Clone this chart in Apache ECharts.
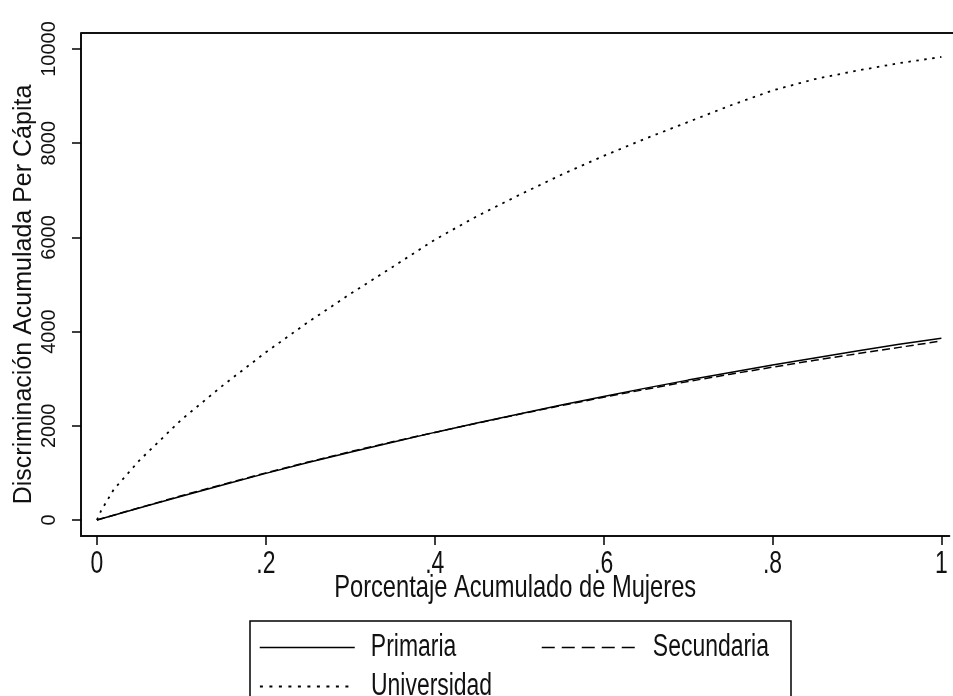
<!DOCTYPE html>
<html>
<head>
<meta charset="utf-8">
<script src="https://cdn.jsdelivr.net/npm/echarts@6/dist/echarts.min.js"></script>
<style>
  html, body { margin: 0; padding: 0; background: #fff; }
  #chart { width: 953px; height: 696px; }
</style>
</head>
<body>
<div id="chart"></div>
<script>
// Cumulative share of women (x) for the primary / secondary curves
const shareX = [0, 0.05, 0.1, 0.15, 0.2, 0.25, 0.3, 0.35, 0.4, 0.45, 0.5,
                0.55, 0.6, 0.65, 0.7, 0.75, 0.8, 0.85, 0.9, 0.95, 1];
const primaria = [0, 255, 505, 750, 990, 1220, 1440, 1650, 1860, 2060, 2250,
                  2440, 2620, 2800, 2970, 3130, 3290, 3440, 3590, 3730, 3860];
const secundaria = [0, 260, 515, 760, 1000, 1230, 1450, 1660, 1860, 2055, 2245,
                    2430, 2605, 2775, 2940, 3095, 3245, 3390, 3530, 3665, 3800];
// University curve rises steeply near the origin, so it has extra points there
const uniX = [0, 0.005, 0.02, 0.05, 0.1, 0.15, 0.2, 0.25, 0.3, 0.35, 0.4, 0.45, 0.5,
              0.55, 0.6, 0.65, 0.7, 0.75, 0.8, 0.85, 0.9, 0.95, 1];
const universidad = [0, 200, 650, 1260, 2130, 2870, 3560, 4200, 4800, 5370, 5950, 6450, 6900,
                     7330, 7730, 8100, 8450, 8800, 9120, 9360, 9540, 9700, 9830];

const xTicks = [0, 0.2, 0.4, 0.6, 0.8, 1];
const yTicks = [0, 2000, 4000, 6000, 8000, 10000];

const seriesNames = ['Primaria', 'Secundaria', 'Universidad'];
const xTitle = 'Porcentaje Acumulado de Mujeres';
const yTitle = 'Discriminación Acumulada Per Cápita';

const pair = (xs, ys) => xs.map((x, i) => [x, ys[i]]);

const font = "'Liberation Sans', Arial, sans-serif";
// Horizontal text is drawn narrow (tall, condensed glyphs)
const CONDENSE = 0.74;

// The plot box leaves a margin around the data: 16px on the left and bottom,
// 16px above the top tick, and runs out to the right edge of the page.
const W = 953, H = 696;
const box = { left: 81, top: 33, bottom: 536, right: W };
const x0px = 97, x1px = 945, y0px = 520, y1px = 49;
const xPerPx = (xTicks[xTicks.length - 1] - xTicks[0]) / (x1px - x0px);
const yPerPx = (yTicks[yTicks.length - 1] - yTicks[0]) / (y0px - y1px);
const xMin = xTicks[0] - (x0px - box.left) * xPerPx;
const xMax = xTicks[xTicks.length - 1] + (box.right - x1px) * xPerPx;
const yMin = yTicks[0] - (box.bottom - y0px) * yPerPx;
const yMax = yTicks[yTicks.length - 1] + (y1px - box.top) * yPerPx;

const solid = { color: '#000', width: 1.5, type: 'solid' };
const dashed = { color: '#000', width: 1.5, type: [8, 4] };
const dotted = { color: '#000', width: 1.8, type: [2.5, 5.5] };

const chart = echarts.init(document.getElementById('chart'), null, { renderer: 'canvas' });

function legendAt(name, left, top, lineStyle) {
  return {
    data: [name],
    left: left,
    top: top,
    padding: 0,
    itemWidth: 95,
    itemHeight: 14,
    selectedMode: false,
    itemStyle: { opacity: 0 },
    lineStyle: lineStyle,
    textStyle: { fontFamily: font, fontSize: 31, color: '#111', padding: [0, 0, 0, 15] }
  };
}

// Squeeze every unrotated text element horizontally about its own anchor
function condenseText() {
  const zr = chart.getZr();
  let changed = false;
  const visit = el => {
    if (el.type === 'text' && !el.rotation && !el.__narrow) {
      el.originX = (el.style && el.style.x) || 0;
      el.originY = (el.style && el.style.y) || 0;
      el.scaleX = CONDENSE;
      el.__narrow = true;
      el.markRedraw();
      changed = true;
    }
    if (el.isGroup) el.eachChild(visit);
  };
  zr.storage.getRoots().forEach(visit);
  if (changed) zr.refresh();
}

chart.on('finished', condenseText);

const axisLineStyle = { color: '#111', width: 2 };
const tickStyle = { color: '#000', width: 1.5 };

chart.setOption({
  animation: false,
  backgroundColor: '#fff',
  grid: { left: box.left, right: W - box.right, top: box.top, bottom: H - box.bottom, containLabel: false },
  xAxis: {
    type: 'value',
    min: xMin, max: xMax,
    axisLine: { show: true, onZero: false, lineStyle: axisLineStyle },
    axisTick: { show: true, length: 9, customValues: xTicks, lineStyle: tickStyle },
    splitLine: { show: false },
    axisLabel: {
      customValues: xTicks,
      margin: 13,
      fontFamily: font, fontSize: 31, color: '#111',
      formatter: v => {
        const t = Number(v.toFixed(1));
        return t === 0 ? '0' : t === 1 ? '1' : String(t).replace(/^0/, '');
      }
    },
    name: xTitle,
    nameLocation: 'middle',
    nameMoveOverlap: false,
    nameGap: 36,
    nameTextStyle: { fontFamily: font, fontSize: 32, color: '#111' }
  },
  yAxis: {
    type: 'value',
    min: yMin, max: yMax,
    axisLine: { show: true, onZero: false, lineStyle: axisLineStyle },
    axisTick: { show: true, length: 9, customValues: yTicks, lineStyle: tickStyle },
    splitLine: { show: false },
    axisLabel: {
      customValues: yTicks,
      rotate: 90,
      margin: 22,
      fontFamily: font, fontSize: 20, color: '#111',
      formatter: v => String(Math.round(v))
    },
    name: yTitle,
    nameLocation: 'middle',
    nameMoveOverlap: false,
    nameRotate: 90,
    nameGap: 44,
    nameTextStyle: { fontFamily: font, fontSize: 25, color: '#111', padding: [0, 20, 0, 0] }
  },
  legend: [
    legendAt(seriesNames[0], 259, 632, solid),
    legendAt(seriesNames[1], 541, 632, { color: '#000', width: 1.5, type: [13, 7] }),
    legendAt(seriesNames[2], 259, 671, { color: '#000', width: 1.8, type: [3, 6.5] })
  ],
  graphic: [
    {
      type: 'line',
      silent: true,
      shape: { x1: box.left, y1: box.top, x2: box.right + 5, y2: box.top },
      style: { stroke: '#111', lineWidth: 2 }
    },
    {
      type: 'rect',
      silent: true,
      shape: { x: 250, y: 621, width: 541, height: 100 },
      style: { stroke: '#000', lineWidth: 1.5, fill: null }
    }
  ],
  series: [
    {
      name: seriesNames[0], type: 'line', data: pair(shareX, primaria),
      symbol: 'none', smooth: false, lineStyle: solid, itemStyle: { color: '#000' }
    },
    {
      name: seriesNames[1], type: 'line', data: pair(shareX, secundaria),
      symbol: 'none', smooth: false, lineStyle: dashed, itemStyle: { color: '#000' }
    },
    {
      name: seriesNames[2], type: 'line', data: pair(uniX, universidad),
      symbol: 'none', smooth: false, lineStyle: dotted, itemStyle: { color: '#000' }
    }
  ]
});

condenseText();
</script>
</body>
</html>
